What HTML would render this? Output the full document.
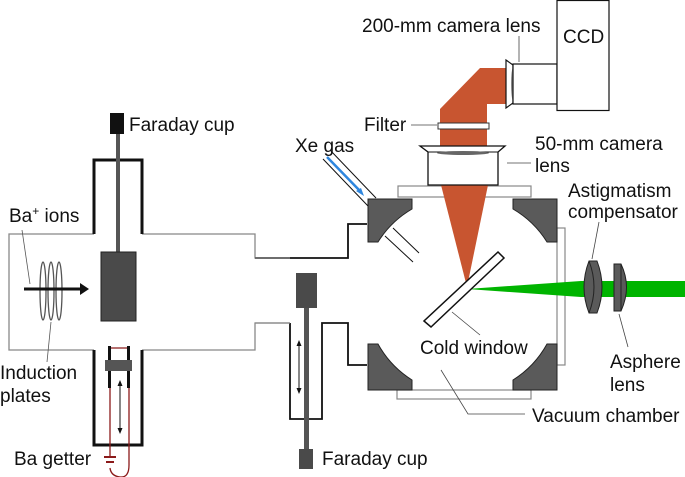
<!DOCTYPE html>
<html><head><style>
html,body{margin:0;padding:0;background:#fff;}
svg{display:block;}
text{font-family:"Liberation Sans",Arial,sans-serif;font-size:19px;fill:#111;}
</style></head><body>
<svg width="685" height="477" viewBox="0 0 685 477" xmlns="http://www.w3.org/2000/svg">
<path d="M94 234 H9 V350 H94 M142 234 H255 V258 H290 M142 350 H255 V323 H290" fill="none" stroke="#888" stroke-width="1.3"/>
<path d="M94 234 V160 H142 V234" fill="none" stroke="#111" stroke-width="3"/>
<path d="M94 350 V445 H142 V350" fill="none" stroke="#111" stroke-width="3"/>
<rect x="110" y="113" width="14" height="21" fill="#111"/>
<rect x="116" y="134" width="4" height="118" fill="#555"/>
<rect x="101" y="252" width="35" height="69" fill="#4a4a4a" stroke="#222" stroke-width="1"/>
<g fill="none" stroke="#555" stroke-width="1.3">
<ellipse cx="43" cy="291" rx="3" ry="29"/>
<ellipse cx="51" cy="291" rx="3" ry="29"/>
<ellipse cx="59" cy="291" rx="3" ry="29"/>
</g>
<line x1="24" y1="289" x2="80" y2="289" stroke="#111" stroke-width="3"/>
<polygon points="80,283 89,289 80,295" fill="#111"/>
<line x1="30" y1="284" x2="22" y2="230" stroke="#555" stroke-width="0.8"/>
<line x1="47" y1="362" x2="51" y2="322" stroke="#555" stroke-width="0.8"/>
<path d="M110 360 V348 H128 V360" fill="none" stroke="#8b1a1a" stroke-width="1.2"/>
<rect x="108" y="346" width="3" height="42" fill="#111"/>
<rect x="127" y="346" width="3" height="42" fill="#111"/>
<rect x="105" y="360" width="27" height="11" fill="#555"/>
<path d="M110 388 V457 M129 388 V465 Q129 478 120 477 Q111 476 110 468" fill="none" stroke="#8b1a1a" stroke-width="1.3"/>
<line x1="104" y1="457" x2="116" y2="457" stroke="#8b1a1a" stroke-width="2"/>
<line x1="106" y1="462" x2="114" y2="462" stroke="#8b1a1a" stroke-width="2"/>
<line x1="120" y1="383" x2="120" y2="431" stroke="#111" stroke-width="1"/>
<polygon points="117.5,386 120,380 122.5,386" fill="#111"/>
<polygon points="117.5,428 120,434 122.5,428" fill="#111"/>
<path d="M290 323 V419 H322 V323 H348 V365 H367" fill="none" stroke="#111" stroke-width="1.8"/>
<path d="M255 258 H348 V224 H367" fill="none" stroke="#111" stroke-width="1.8"/>
<line x1="255" y1="258" x2="290" y2="258" stroke="#888" stroke-width="1.3"/>
<line x1="255" y1="323" x2="290" y2="323" stroke="#888" stroke-width="1.3"/>
<rect x="296" y="273" width="21" height="35" fill="#4a4a4a"/>
<rect x="304" y="308" width="5" height="142" fill="#555"/>
<rect x="299" y="449" width="14" height="20" fill="#4a4a4a"/>
<line x1="299" y1="344" x2="299" y2="390" stroke="#111" stroke-width="1"/>
<polygon points="296.5,346 299,340 301.5,346" fill="#111"/>
<polygon points="296.5,388 299,394 301.5,388" fill="#111"/>
<rect x="398" y="186" width="133" height="11" fill="#fff" stroke="#888" stroke-width="1.2"/>
<rect x="397" y="390" width="134" height="9" fill="#fff" stroke="#888" stroke-width="1.2"/>
<rect x="557" y="228" width="8" height="137" fill="#fff" stroke="#888" stroke-width="1.2"/>
<g fill="#5a5a5a" stroke="#222" stroke-width="1">
<path d="M368 199 H412 V209 A99 99 0 0 0 378 242 H368 Z"/>
<path d="M557 199 H513 V209 A99 99 0 0 1 547 242 H557 Z"/>
<path d="M368 390 H412 V380 A99 99 0 0 1 378 344 H368 Z"/>
<path d="M557 390 H513 V380 A99 99 0 0 0 547 344 H557 Z"/>
</g>
<g stroke="#111" stroke-width="1">
<line x1="330" y1="150" x2="376" y2="198"/>
<line x1="323" y1="159" x2="368" y2="206"/>
<line x1="393" y1="228" x2="419" y2="253"/>
<line x1="385" y1="236" x2="413" y2="262"/>
</g>
<line x1="327" y1="157" x2="361" y2="192" stroke="#2e86de" stroke-width="2.5"/>
<polygon points="356,191 364,196 361,188" fill="#2e86de"/>
<polygon points="440,150 440,109 480,68 506,68 506,104 487,104 487,150" fill="#c85530"/>
<polygon points="441,185 488,185 467,287" fill="#c85530"/>
<rect x="438" y="123" width="51" height="6" fill="#fff" stroke="#333" stroke-width="1"/>
<path d="M420 146 H505 L498 152 V185 H428 V152 Z" fill="#fff" stroke="#111" stroke-width="1.3"/>
<line x1="428" y1="152" x2="498" y2="152" stroke="#111" stroke-width="1"/>
<ellipse cx="463" cy="153" rx="26" ry="2" fill="#666"/>
<path d="M506 60 L513 65 V103 L506 108 Z" fill="#fff" stroke="#111" stroke-width="1.2"/>
<ellipse cx="513" cy="84" rx="2" ry="16" fill="#888"/>
<rect x="513" y="64" width="44" height="40" fill="#fff" stroke="#111" stroke-width="1.2"/>
<rect x="557" y="0.5" width="52" height="110" fill="#fff" stroke="#111" stroke-width="1.2"/>
<polygon points="467,289 581,281 581,297" fill="#00b400"/>
<rect x="581" y="281" width="104" height="16" fill="#00b400"/>
<path d="M589 261 H597 Q607 287 597 313 H589 Q579 287 589 261 Z" fill="#5a5a5a" stroke="#222" stroke-width="1"/>
<path d="M589 261 Q599 287 589 313" fill="none" stroke="#222" stroke-width="1"/>
<path d="M614 264 H621 Q632 287 621 311 H614 Z" fill="#5a5a5a" stroke="#222" stroke-width="1"/>
<line x1="621" y1="264" x2="621" y2="311" stroke="#222" stroke-width="1"/>
<polygon points="424,321 431,327 504,258 498,252" fill="#fff" stroke="#111" stroke-width="1.5"/>
<g stroke="#444" stroke-width="0.8" fill="none">
<line x1="519" y1="62" x2="519" y2="36"/>
<line x1="411" y1="125" x2="437" y2="125"/>
<line x1="507" y1="163" x2="531" y2="163"/>
<line x1="592" y1="259" x2="599" y2="222"/>
<line x1="619" y1="314" x2="628" y2="347"/>
<line x1="452" y1="312" x2="480" y2="335"/>
<path d="M441 370 L468 414 H525"/>
</g>
<text x="129" y="131">Faraday cup</text>
<text x="9" y="222">Ba<tspan font-size="12" dy="-7">+</tspan><tspan dy="7"> ions</tspan></text>
<text x="0" y="379">Induction</text>
<text x="0" y="402">plates</text>
<text x="14" y="465">Ba getter</text>
<text x="322" y="465">Faraday cup</text>
<text x="295" y="152">Xe gas</text>
<text x="362" y="32">200-mm camera lens</text>
<text x="563" y="43">CCD</text>
<text x="364" y="131">Filter</text>
<text x="535" y="150">50-mm camera</text>
<text x="535" y="172">lens</text>
<text x="568" y="197">Astigmatism</text>
<text x="568" y="218">compensator</text>
<text x="420" y="354">Cold window</text>
<text x="610" y="368">Asphere</text>
<text x="610" y="391">lens</text>
<text x="532" y="422">Vacuum chamber</text>
</svg>
</body></html>
